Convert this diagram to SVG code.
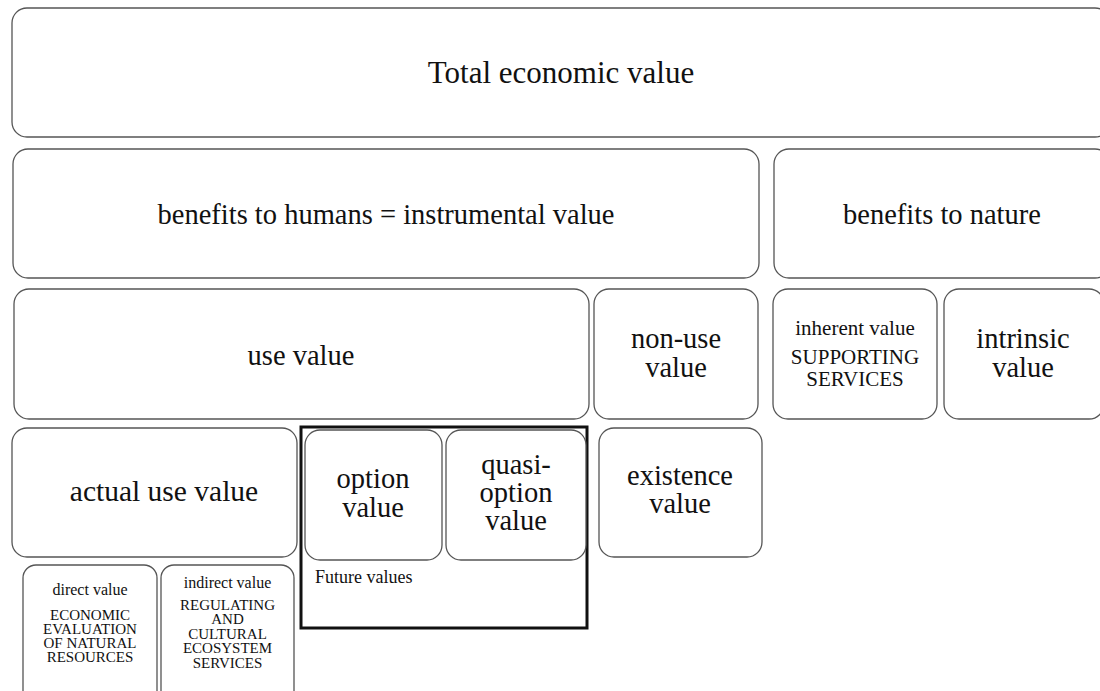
<svg xmlns="http://www.w3.org/2000/svg" width="1100" height="691" viewBox="0 0 1100 691">
<style>
.box{fill:#fff;stroke:#555;stroke-width:1.3}
.t{fill:#111;text-anchor:middle}
.big{font-size:28.5px}
.title{font-size:31px}
.mid{font-size:21px}
.sm{font-size:15px}
.frame{fill:none;stroke:#111;stroke-width:3}
</style>
<rect width="1100" height="691" fill="#fff"/>
<g font-family="Liberation Serif, serif">
<g id="total"><rect class="box" x="12" y="8" width="1098" height="129" rx="15"/><text class="t title" x="561" y="83">Total economic value</text></g>
<g id="humans"><rect class="box" x="13" y="149" width="746" height="129" rx="15"/><text class="t big" x="386" y="224">benefits to humans = instrumental value</text></g>
<g id="nature"><rect class="box" x="774" y="149" width="336" height="129" rx="15"/><text class="t big" x="942" y="224">benefits to nature</text></g>
<g id="use"><rect class="box" x="14" y="289" width="575" height="130" rx="15"/><text class="t big" x="301" y="365">use value</text></g>
<g id="nonuse"><rect class="box" x="594" y="289" width="164" height="130" rx="15"/><text class="t big" x="676" y="348">non-use</text><text class="t big" x="676" y="377">value</text></g>
<g id="inherent"><rect class="box" x="773" y="289" width="164" height="130" rx="15"/><text class="t mid" x="855" y="335">inherent value</text><text class="t mid" x="855" y="364">SUPPORTING</text><text class="t mid" x="855" y="386">SERVICES</text></g>
<g id="intrinsic"><rect class="box" x="944" y="289" width="160" height="130" rx="15"/><text class="t big" x="1023" y="348">intrinsic</text><text class="t big" x="1023" y="377">value</text></g>
<g id="actual"><rect class="box" x="12" y="428" width="285" height="129" rx="15"/><text class="t" style="font-size:29.5px" x="164" y="501">actual use value</text></g>
<g id="future"><rect class="frame" x="301" y="427" width="286" height="201"/><text class="t" style="font-size:18px;text-anchor:start" x="315" y="583">Future values</text></g>
<g id="option"><rect class="box" x="305" y="430" width="137" height="130" rx="15"/><text class="t big" x="373" y="488">option</text><text class="t big" x="373" y="517">value</text></g>
<g id="quasi"><rect class="box" x="446" y="430" width="140" height="130" rx="15"/><text class="t big" x="516" y="474">quasi-</text><text class="t big" x="516" y="502">option</text><text class="t big" x="516" y="530">value</text></g>
<g id="existence"><rect class="box" x="599" y="428" width="163" height="129" rx="15"/><text class="t big" x="680" y="485">existence</text><text class="t big" x="680" y="513">value</text></g>
<g id="direct"><rect class="box" x="23" y="565" width="134" height="140" rx="13"/><text class="t" style="font-size:16px" x="90" y="595">direct value</text><text class="t sm" x="90" y="620">ECONOMIC</text><text class="t sm" x="90" y="634">EVALUATION</text><text class="t sm" x="90" y="648">OF NATURAL</text><text class="t sm" x="90" y="662">RESOURCES</text></g>
<g id="indirect"><rect class="box" x="161" y="565" width="133" height="140" rx="13"/><text class="t" style="font-size:16px" x="227.5" y="588">indirect value</text><text class="t sm" x="227.5" y="610">REGULATING</text><text class="t sm" x="227.5" y="624">AND</text><text class="t sm" x="227.5" y="639">CULTURAL</text><text class="t sm" x="227.5" y="653">ECOSYSTEM</text><text class="t sm" x="227.5" y="668">SERVICES</text></g>
</g>
<g id="connectors"></g>
</svg>
